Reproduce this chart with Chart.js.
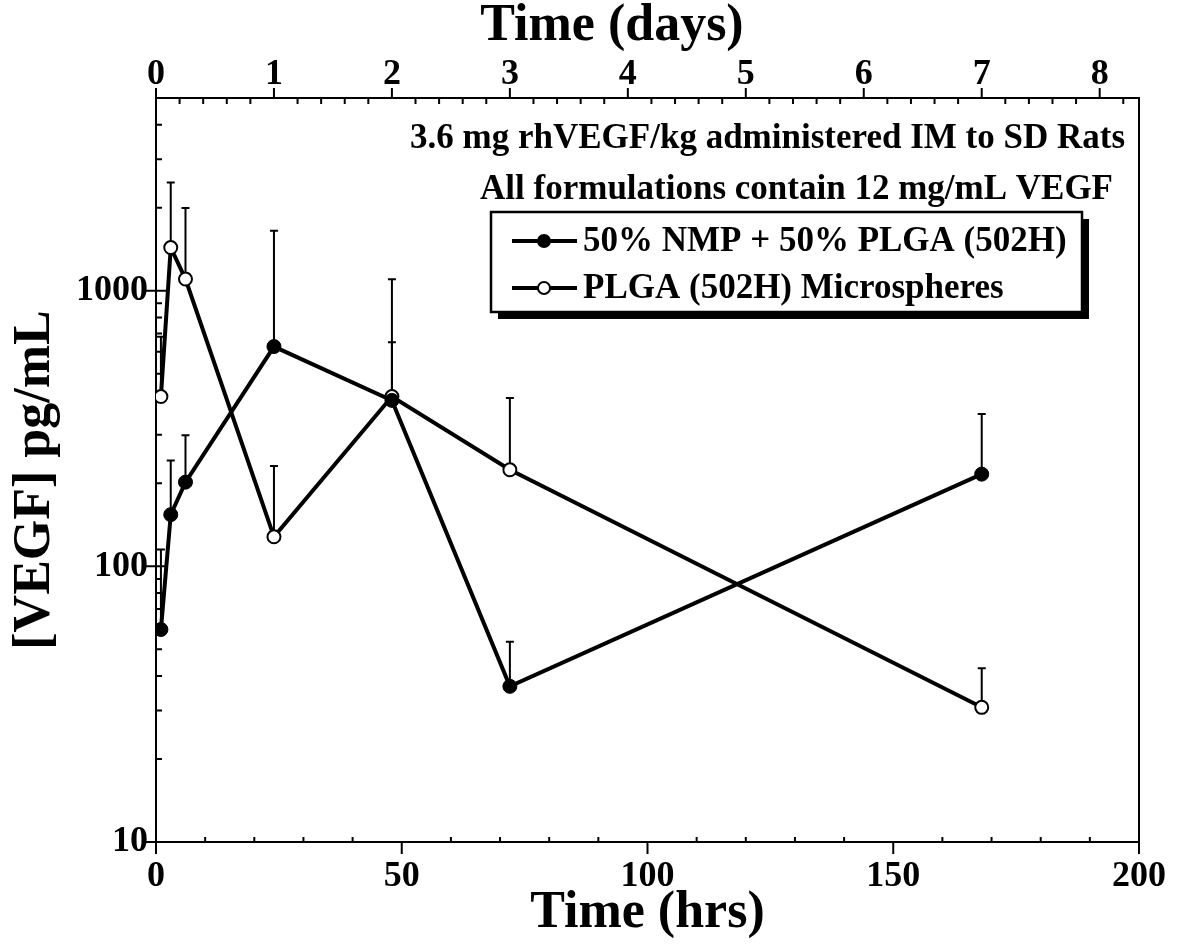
<!DOCTYPE html>
<html>
<head>
<meta charset="utf-8">
<script src="https://cdn.jsdelivr.net/npm/chart.js@4"></script>
<style>
  html, body { margin: 0; padding: 0; background: #fff; }
  #wrap { width: 1180px; height: 948px; }
</style>
</head>
<body>
<div id="wrap"><canvas id="vegf" width="1180" height="948"></canvas></div>
<script>
// sampling times (hrs) and mean / upper error values (pg/mL)
const hours = [1, 3, 6, 24, 48, 72, 168];
const nmpPlga = [59, 154, 202, 627, 400, 36.7, 216];
const nmpPlgaUpper = [115, 242, 299, 1649, 1100, 53.3, 357];
const microspheres = [413, 1434, 1102, 128, 413, 224, 30.8];
const microspheresUpper = [680, 2466, 1995, 231, 650, 408, 42.7];

const hrTicks = [0, 50, 100, 150, 200];
const dayTicks = [0, 1, 2, 3, 4, 5, 6, 7, 8];
const concTicks = [10, 100, 1000];

const seriesLabels = ['50% NMP + 50% PLGA (502H)', 'PLGA (502H) Microspheres'];
const notes = ['3.6 mg rhVEGF/kg administered IM to SD Rats', 'All formulations contain 12 mg/mL VEGF'];

const serif = '"Liberation Serif", "Times New Roman", serif';
Chart.defaults.font.family = serif;
Chart.defaults.font.weight = 'bold';
Chart.defaults.color = '#000';

const toPoints = ys => hours.map((h, i) => ({x: h, y: ys[i]}));

// upper error bars, under the markers
const errorBars = {
  id: 'errorBars',
  beforeDatasetsDraw(chart) {
    const {ctx, scales: {x, y}} = chart;
    ctx.save();
    ctx.strokeStyle = '#000';
    ctx.lineWidth = 2;
    chart.data.datasets.forEach(ds => {
      ds.data.forEach((p, i) => {
        const px = x.getPixelForValue(p.x);
        const y0 = y.getPixelForValue(p.y);
        const y1 = y.getPixelForValue(ds.upper[i]);
        ctx.beginPath();
        ctx.moveTo(px, y0); ctx.lineTo(px, y1);
        ctx.moveTo(px - 4, y1); ctx.lineTo(px + 4, y1);
        ctx.stroke();
      });
    });
    ctx.restore();
  }
};

// box frame with outward major ticks and inward minor ticks
const frame = {
  id: 'frame',
  beforeDatasetsDraw(chart) {
    const {ctx, chartArea: a, scales} = chart;
    const seg = (x0, y0, x1, y1) => { ctx.moveTo(x0, y0); ctx.lineTo(x1, y1); };
    ctx.save();
    ctx.strokeStyle = '#000';
    ctx.lineWidth = 2;
    ctx.beginPath();
    for (let v = 0; v <= 200; v += 10) {
      const px = scales.x.getPixelForValue(v);
      if (v % 50 === 0) seg(px, a.bottom, px, a.bottom + 12);
      else seg(px, a.bottom, px, a.bottom - 5);
    }
    for (let i = 0; i / 5 <= scales.xTop.max; i++) {
      const px = scales.xTop.getPixelForValue(i / 5);
      if (i % 5 === 0) seg(px, a.top, px, a.top - 10);
      else seg(px, a.top, px, a.top + 6);
    }
    for (const dec of [10, 100, 1000]) {
      for (let m = 1; m <= 9; m++) {
        const v = m * dec;
        if (v >= scales.y.max) break;
        const py = scales.y.getPixelForValue(v);
        if (m === 1) seg(a.left - 11, py, a.left + 10, py);
        else seg(a.left, py, a.left + 6, py);
      }
    }
    ctx.stroke();
    ctx.strokeRect(a.left, a.top, a.right - a.left, a.bottom - a.top);
    ctx.restore();
  }
};

// top title, notes and the shadowed legend box
const annotations = {
  id: 'annotations',
  afterDraw(chart) {
    const {ctx, chartArea: a} = chart;
    ctx.save();
    ctx.fillStyle = '#000';
    ctx.textBaseline = 'middle';
    ctx.textAlign = 'center';
    ctx.font = 'bold 52px ' + serif;
    ctx.fillText('Time (days)', 612, 27);

    ctx.font = 'bold 35px ' + serif;
    ctx.textAlign = 'right';
    ctx.fillText(notes[0], a.right - 14, 139);
    ctx.fillText(notes[1], a.right - 26, 190);

    const bx = 491, by = 212, bw = 591, bh = 100;
    ctx.fillRect(bx + 7, by + 7, bw, bh);
    ctx.fillStyle = '#fff';
    ctx.fillRect(bx, by, bw, bh);
    ctx.lineWidth = 2.5;
    ctx.strokeStyle = '#000';
    ctx.strokeRect(bx, by, bw, bh);

    ctx.textAlign = 'left';
    chart.data.datasets.forEach((ds, i) => {
      const cy = by + 29 + i * 47;
      ctx.lineWidth = 4;
      ctx.beginPath();
      ctx.moveTo(512, cy); ctx.lineTo(577, cy);
      ctx.stroke();
      ctx.beginPath();
      ctx.arc(544, cy, 6, 0, Math.PI * 2);
      ctx.fillStyle = ds.pointBackgroundColor;
      ctx.fill();
      ctx.lineWidth = 2;
      ctx.stroke();
      ctx.fillStyle = '#000';
      ctx.fillText(ds.label, 583, cy + 1);
    });

    // y title drawn here so it can sit a little below the axis centre
    ctx.font = 'bold 52px ' + serif;
    ctx.textAlign = 'center';
    ctx.translate(36, 480);
    ctx.rotate(-Math.PI / 2);
    ctx.fillText('[VEGF] pg/mL', 0, 0);
    ctx.restore();
  }
};

const tickFont = {size: 36, weight: 'bold', family: serif};

new Chart(document.getElementById('vegf'), {
  type: 'line',
  data: {
    datasets: [{
      label: seriesLabels[0],
      data: toPoints(nmpPlga),
      upper: nmpPlgaUpper,
      borderColor: '#000',
      borderWidth: 4,
      pointRadius: 7,
      pointBackgroundColor: '#000',
      pointBorderColor: '#000',
      pointBorderWidth: 1
    }, {
      label: seriesLabels[1],
      data: toPoints(microspheres),
      upper: microspheresUpper,
      borderColor: '#000',
      borderWidth: 4,
      pointRadius: 6.5,
      pointBackgroundColor: '#fff',
      pointBorderColor: '#000',
      pointBorderWidth: 2
    }]
  },
  options: {
    responsive: false,
    animation: false,
    layout: {padding: {left: 0, right: 41, top: 0, bottom: 0}},
    plugins: {
      legend: {display: false},
      tooltip: {enabled: false}
    },
    scales: {
      x: {
        type: 'linear',
        position: 'bottom',
        min: 0,
        max: 200,
        afterBuildTicks: s => { s.ticks = hrTicks.map(v => ({value: v})); },
        afterFit: s => { s.height = 106; },
        grid: {display: false},
        border: {display: false},
        ticks: {font: tickFont, padding: 5, maxRotation: 0},
        title: {display: true, text: 'Time (hrs)', font: {size: 52, weight: 'bold', family: serif}, padding: {top: 0, bottom: 3}}
      },
      xTop: {
        type: 'linear',
        position: 'top',
        min: 0,
        max: 200 / 24,
        afterBuildTicks: s => { s.ticks = dayTicks.map(v => ({value: v})); },
        afterFit: s => { s.height = 98; },
        grid: {display: false},
        border: {display: false},
        ticks: {font: tickFont, padding: -6, maxRotation: 0}
      },
      y: {
        type: 'logarithmic',
        position: 'left',
        min: 10,
        max: 5000,
        afterBuildTicks: s => { s.ticks = concTicks.map(v => ({value: v})); },
        afterFit: s => { s.width = 156; },
        grid: {display: false},
        border: {display: false},
        ticks: {font: tickFont, padding: 0, callback: v => String(v)}
      }
    }
  },
  plugins: [frame, errorBars, annotations]
});
</script>
</body>
</html>
